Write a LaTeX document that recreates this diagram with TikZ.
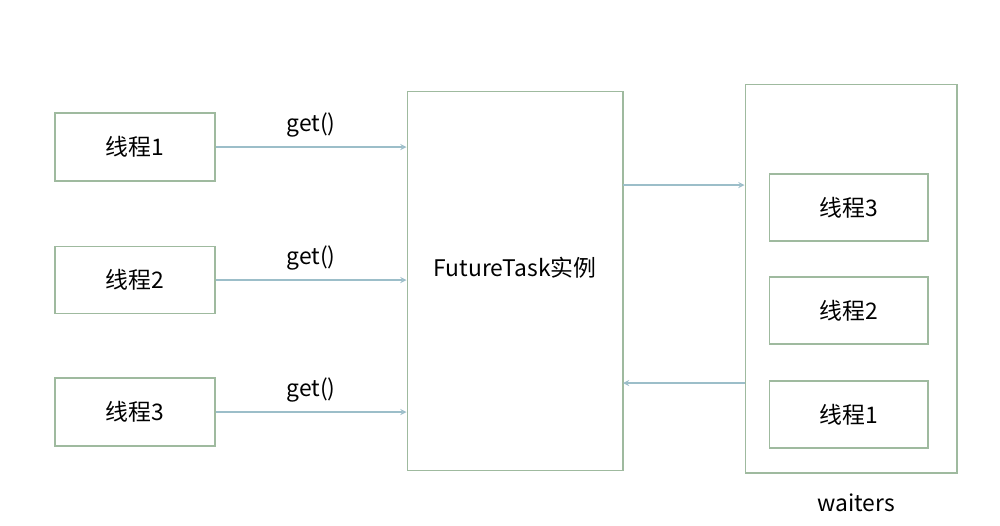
\documentclass[tikz,border=0pt]{standalone}
\usepackage{fontspec}
\setmainfont{Noto Sans CJK SC}
\begin{document}
\begin{tikzpicture}[x=0.02cm,y=-0.02cm,
  bx/.style={draw=black!30!green!25!gray!60, line width=0.6pt},
  ar/.style={draw=blue!25!cyan!30!gray!60, line width=0.6pt, ->, >=stealth},
  lbl/.style={font=\fontsize{13}{15}\selectfont}]
\useasboundingbox (0,0) rectangle (1000,525);
\node[bx,minimum width=3.2cm,minimum height=1.36cm,lbl] (a1) at (135,147) {线程1};
\node[bx,minimum width=3.2cm,minimum height=1.34cm,lbl] (a2) at (135,280) {线程2};
\node[bx,minimum width=3.2cm,minimum height=1.36cm,lbl] (a3) at (135,412) {线程3};
\node[bx,minimum width=4.32cm,minimum height=7.58cm,lbl] (f) at (515,281) {};
\node[lbl] at (515,268) {FutureTask实例};
\node[bx,minimum width=4.24cm,minimum height=7.78cm] (w) at (851,278.5) {};
\node[bx,minimum width=3.18cm,minimum height=1.34cm,lbl] (b3) at (848.5,207.5) {线程3};
\node[bx,minimum width=3.18cm,minimum height=1.34cm,lbl] (b2) at (848.5,310.5) {线程2};
\node[bx,minimum width=3.18cm,minimum height=1.34cm,lbl] (b1) at (848.5,414.5) {线程1};
\draw[ar] (a1.east) -- node[above,lbl,black,yshift=2pt]{get()} (a1.east -| f.west);
\draw[ar] (a2.east) -- node[above,lbl,black,yshift=2pt]{get()} (a2.east -| f.west);
\draw[ar] (a3.east) -- node[above,lbl,black,yshift=2pt]{get()} (a3.east -| f.west);
\coordinate (t) at (623,185);
\coordinate (u) at (623,383);
\draw[ar] (t) -- (t -| w.west);
\draw[ar] (u -| w.west) -- (u);
\node[lbl] (wl) at (856,503) {waiters};
\end{tikzpicture}
\end{document}
